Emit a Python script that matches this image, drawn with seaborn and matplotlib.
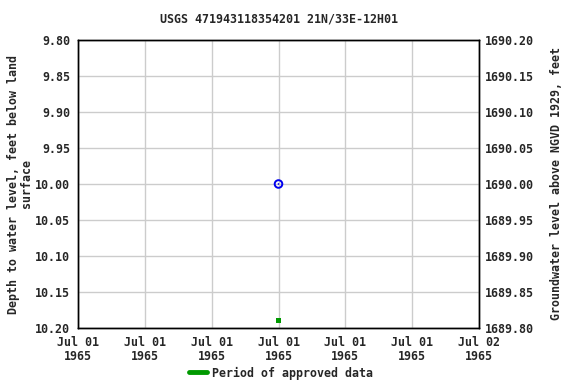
import matplotlib
matplotlib.use("Agg")
import matplotlib.pyplot as plt
import seaborn as sns
import pandas as pd
from matplotlib.lines import Line2D

title = "USGS 471943118354201 21N/33E-12H01"
obs_time = ["1965-07-01 12:00"]
obs_depth = [10.00]
approved_time = ["1965-07-01 12:00"]
approved_depth = [10.19]
xtick_times = ["1965-07-01 00:00", "1965-07-01 04:00", "1965-07-01 08:00", "1965-07-01 12:00",
               "1965-07-01 16:00", "1965-07-01 20:00", "1965-07-02 00:00"]
xtick_labels = ["Jul 01\n1965"] * 6 + ["Jul 02\n1965"]
left_ticks = [9.80, 9.85, 9.90, 9.95, 10.00, 10.05, 10.10, 10.15, 10.20]
datum = 1700.0

sns.set_theme(style="white")
plt.rcParams['font.family'] = ['DejaVu Sans Mono']
plt.rcParams['font.weight'] = 'bold'
FS = 8.4
plt.rcParams['font.size'] = FS

df_obs = pd.DataFrame({"t": pd.to_datetime(obs_time), "d": obs_depth})
df_app = pd.DataFrame({"t": pd.to_datetime(approved_time), "d": approved_depth})

W, H = 576, 384
L, R, T, B = 78, 479, 40, 328
fig = plt.figure(figsize=(W/100, H/100), dpi=100)
ax = fig.add_axes([L/W, 1-B/H, (R-L)/W, (B-T)/H])

sns.scatterplot(data=df_obs, x="t", y="d", ax=ax, marker="o", s=30,
                facecolors="none", edgecolor="#0000ee", linewidth=1.4, zorder=5)
sns.scatterplot(data=df_obs, x="t", y="d", ax=ax, marker="o", s=1.5,
                color="#0000ee", edgecolor="none", zorder=6)
sns.scatterplot(data=df_app, x="t", y="d", ax=ax, marker="s", s=12,
                color="#009900", edgecolor="none", zorder=5)

xt = pd.to_datetime(xtick_times)
ax.set_xlim(xt[0], xt[-1])
ax.set_xticks(xt)
ax.set_xticklabels(xtick_labels, linespacing=1.1)
ax.set_ylim(10.20, 9.80)
ax.set_yticks(left_ticks)
ax.set_yticklabels([f"{v:.2f}" for v in left_ticks])
ax.grid(True, color="#cccccc", linewidth=1.0)
ax.set_axisbelow(True)
ax.set_xlabel("")
ax.set_ylabel("Depth to water level, feet below land\nsurface", fontsize=FS,
              fontweight='bold', labelpad=2, linespacing=1.0)
ax.set_title(title, fontsize=FS, fontweight='bold', pad=12.5)
for s in ax.spines.values():
    s.set_color("black")
    s.set_linewidth(1.0)
ax.tick_params(axis='x', length=0, pad=6, labelsize=FS)
ax.tick_params(axis='y', length=0, pad=5.5, labelsize=FS)

ax2 = ax.twinx()
ax2.set_ylim(datum - 10.20, datum - 9.80)
rt = [datum - v for v in left_ticks]
ax2.set_yticks(rt)
ax2.set_yticklabels([f"{v:.2f}" for v in rt])
ax2.tick_params(axis='y', length=0, pad=4, labelsize=FS)
ax2.set_ylabel("Groundwater level above NGVD 1929, feet", fontsize=FS,
               fontweight='bold', labelpad=12)
ax2.grid(False)
for s in ax2.spines.values():
    s.set_color("black")
    s.set_linewidth(1.0)

h = [Line2D([0], [0], color="#009900", linewidth=3.5)]
fig.legend(h, ["Period of approved data"], loc="center", bbox_to_anchor=(281/W, 1-373/H),
           frameon=False, fontsize=FS, handlelength=1.6, handletextpad=0.4,
           borderpad=0, borderaxespad=0)

fig.savefig("out.png", dpi=100)
